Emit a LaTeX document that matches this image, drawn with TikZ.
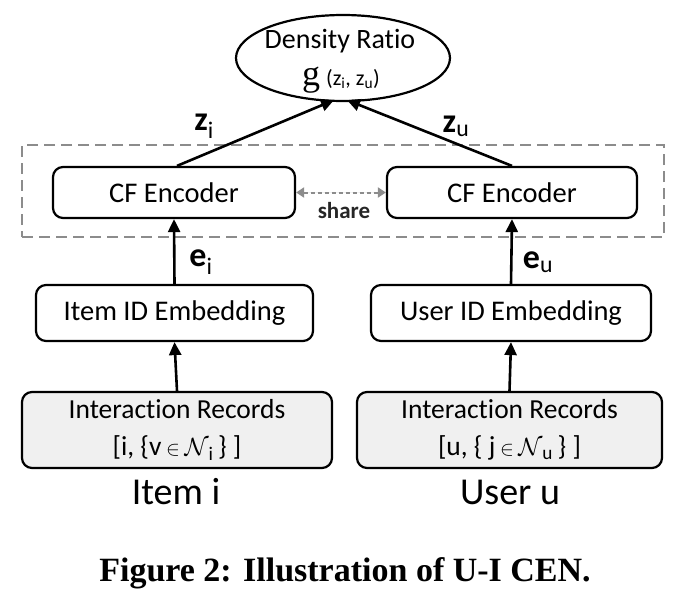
\documentclass[tikz,border=0pt]{standalone}
\usepackage{fontspec}
\setmainfont{Carlito}[Ligatures={NoCommon}]
\newfontfamily\capfont{Liberation Serif}
\newfontfamily\gfont{Liberation Serif}
\usetikzlibrary{arrows.meta,shapes.geometric}
\begin{document}
\begin{tikzpicture}[x=1pt,y=-1pt,
  box/.style={draw, line width=2.2pt, rounded corners=10pt, inner sep=0pt, minimum height=51pt, font=\fontsize{28.5}{32}\selectfont},
  recbox/.style={box, fill=black!6, minimum height=76pt, align=center, font=\fontsize{27.5}{37}\selectfont},
  arr/.style={-{Triangle[length=13pt,width=12pt]}, line width=2.6pt},
  lab/.style={font=\fontsize{34}{36}\selectfont\bfseries},
  big/.style={font=\fontsize{38}{42}\selectfont}]
\useasboundingbox (0,0) rectangle (690,610);
% groups
\node (grp) [draw=black!45, line width=1.8pt, dash pattern=on 11pt off 6pt, minimum width=642pt, minimum height=92pt, inner sep=0pt] at (343,191) {};
\node (dr) [ellipse, draw, line width=2.2pt, minimum width=214pt, minimum height=86pt, inner sep=0pt] at (343,58) {};
\node (drt) [font=\fontsize{28}{32}\selectfont] at (340,41) {Density Ratio};
\node (drg) at (341,80) {{\gfont\fontsize{36}{30}\selectfont g}\hspace{6pt}{\fontsize{22}{20}\selectfont(z\textsubscript{i}, z\textsubscript{u})}};
\node (cfl) [box, minimum width=242pt] at (174,192.5) {CF Encoder};
\node (cfr) [box, minimum width=250pt] at (512,192.5) {CF Encoder};
\node (iel) [box, minimum width=277pt, minimum height=56pt] at (174.5,313) {Item ID Embedding};
\node (uer) [box, minimum width=280pt, minimum height=56pt] at (511,313) {User ID Embedding};
\node (irl) [recbox, minimum width=310pt] at (177,430) {Interaction Records\\{}[i, \{v\,$\scriptstyle\in$\,$\mathcal{N}$\textsubscript{i}\,\} ]};
\node (irr) [recbox, minimum width=305pt] at (509.5,430) {Interaction Records\\{}[u, \{ j\,$\scriptstyle\in$\,$\mathcal{N}$\textsubscript{u}\,\} ]};
\node (itm) [big] at (176,492) {Item i};
\node (usr) [big] at (510,492) {User u};
\node (cap) [font=\capfont\fontsize{34}{36}\selectfont\bfseries] at (345,573) {Figure 2: Illustration of U-I CEN.};
% arrows
\draw[arr] (irl.north) -- (iel.south);
\draw[arr] (irr.north) -- (uer.south);
\draw[arr] (iel.north) -- (cfl.south);
\draw[arr] (uer.north) -- (cfr.south);
\draw[arr] ([xshift=3pt]cfl.north) -- ([xshift=-9pt,yshift=2pt]dr.south);
\draw[arr] (cfr.north) -- ([xshift=4pt,yshift=2pt]dr.south);
\draw[{Triangle[length=8pt,width=10pt]}-{Triangle[length=8pt,width=10pt]}, draw=black!45, fill=black!45, line width=2pt, dash pattern=on 4pt off 3pt] (cfl.east) -- (cfr.west);
\node (share) [font=\fontsize{23}{26}\selectfont\bfseries, text=black!85] at (344,211) {share};
% labels
\node (zi) [lab] at (204,126) {z\textsubscript{\mdseries i}};
\node (zu) [lab] at (456,126) {z\textsubscript{\mdseries u}};
\node (ei) [lab] at (201,262) {e\textsubscript{\mdseries i}};
\node (eu) [lab] at (538,262) {e\textsubscript{\mdseries u}};
\end{tikzpicture}
\end{document}
